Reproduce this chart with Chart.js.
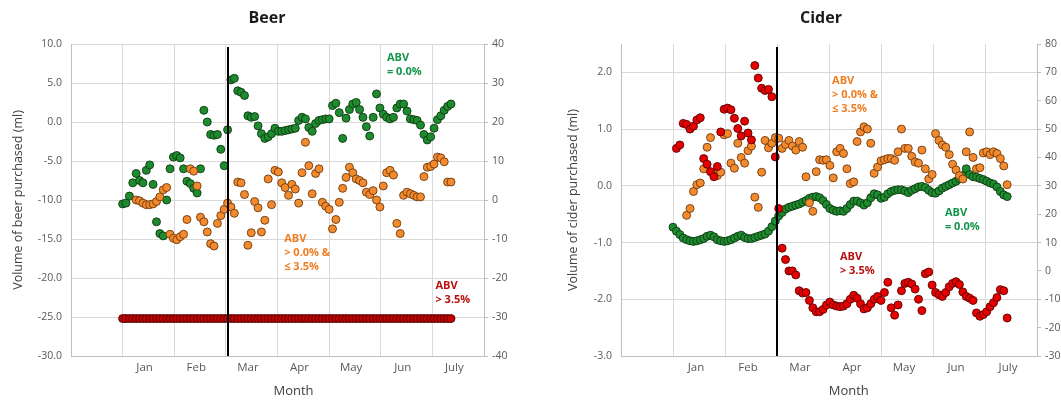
<!DOCTYPE html>
<html>
<head>
<meta charset="utf-8">
<script src="https://cdn.jsdelivr.net/npm/chart.js@4.4.1/dist/chart.umd.min.js"></script>
<style>
  html, body { margin: 0; padding: 0; background: #fff; }
  body { width: 1061px; height: 405px; overflow: hidden; position: relative; }
  canvas { position: absolute; top: 0; }
  #beerChart { left: 0; }
  #ciderChart { left: 545px; }
</style>
</head>
<body>
<canvas id="beerChart" width="534" height="405"></canvas>
<canvas id="ciderChart" width="552" height="405"></canvas>
<script>
// month labels sit between the month gridlines (x = 1 is 1 Jan)
const MONTHS = ['', 'Jan', 'Feb', 'Mar', 'Apr', 'May', 'Jun', 'July', ''];
const DAY_STEP = 2;          // one reading every second day
const DAYS_PER_MONTH = 30.5;

// Beer, mean volume purchased (ml), from 1 Jan
const beerZero = [
    -10.5, -10.4, -9.5, -7.8, -6.6, -7.5, -7.8, -6.2, -5.5, -8.0,
    -12.8, -14.3, -14.6, -10.0, -6.0, -4.5, -4.3, -4.6, -6.0, -7.6,
    -7.9, -8.5, -9.1, -6.0, 1.5, 0.0, -1.6, -1.7, -1.6, -3.5,
    -5.6, -1.0, 5.4, 5.6, 4.0, 3.8, 3.4, 0.8, 0.6, 0.7,
    -0.5, -1.5, -2.1, -1.9, -1.5, -0.8, -1.2, -1.2, -1.1, -1.0,
    -0.9, -0.8, 0.2, 0.6, 0.4, -0.7, -1.2, -0.2, 0.2, 0.3,
    0.4, 0.4, 2.1, 2.4, 1.2, -2.1, 0.5, 1.6, 2.3, 2.5,
    1.6, 0.6, -0.6, -1.8, 0.6, 3.6, 1.8, 1.0, 0.6, 0.4,
    0.6, 1.8, 2.3, 2.3, 1.4, 0.4, 0.3, 0.2, -0.4, -1.6,
    -2.3, -1.9, -0.8, 0.3, 0.8, 1.5, 2.0, 2.3
];
const beerLow = [
    null, null, null, null, -10.0, -10.1, -10.4, -10.6, -10.6, -10.5,
    -10.2, -9.6, -8.7, -8.4, -14.4, -14.9, -15.1, -14.7, -14.4, -12.5,
    -6.0, -6.3, -8.2, -12.2, -12.8, -14.1, -15.6, -15.9, -13.0, -12.0,
    -11.2, -10.4, -10.9, -11.7, -7.7, -7.8, -9.3, -15.8, -14.2, -10.2,
    -11.0, -14.1, -12.6, -7.3, -10.6, -6.2, -6.4, -7.8, -8.4, -9.4,
    -8.0, -8.6, -10.4, -6.5, -2.6, -5.6, -9.2, -6.6, -6.0, -10.3,
    -10.8, -11.2, -13.7, -12.5, -10.3, -8.5, -7.1, -5.8, -6.5, -7.3,
    -7.5, -7.8, -9.0, -9.3, -8.8, -10.0, -10.9, -8.2, -6.5, -6.2,
    -6.8, -13.0, -14.3, -9.4, -9.0, -9.2, -9.4, -9.6, -9.6, -7.0,
    -5.8, -5.7, -5.4, -4.5, -4.6, -5.1, -7.7, -7.7
];
const beerHigh = [
    -25.2, -25.2, -25.2, -25.2, -25.2, -25.2, -25.2, -25.2, -25.2, -25.2,
    -25.2, -25.2, -25.2, -25.2, -25.2, -25.2, -25.2, -25.2, -25.2, -25.2,
    -25.2, -25.2, -25.2, -25.2, -25.2, -25.2, -25.2, -25.2, -25.2, -25.2,
    -25.2, -25.2, -25.2, -25.2, -25.2, -25.2, -25.2, -25.2, -25.2, -25.2,
    -25.2, -25.2, -25.2, -25.2, -25.2, -25.2, -25.2, -25.2, -25.2, -25.2,
    -25.2, -25.2, -25.2, -25.2, -25.2, -25.2, -25.2, -25.2, -25.2, -25.2,
    -25.2, -25.2, -25.2, -25.2, -25.2, -25.2, -25.2, -25.2, -25.2, -25.2,
    -25.2, -25.2, -25.2, -25.2, -25.2, -25.2, -25.2, -25.2, -25.2, -25.2,
    -25.2, -25.2, -25.2, -25.2, -25.2, -25.2, -25.2, -25.2, -25.2, -25.2,
    -25.2, -25.2, -25.2, -25.2, -25.2, -25.2, -25.2, -25.2
];

// Cider, mean volume purchased (ml), from 1 Jan
const ciderZero = [
    -0.73, -0.80, -0.86, -0.92, -0.95, -0.97, -0.98, -0.97, -0.95, -0.93,
    -0.89, -0.87, -0.90, -0.95, -0.97, -0.98, -0.97, -0.95, -0.92, -0.89,
    -0.87, -0.91, -0.93, -0.93, -0.91, -0.89, -0.87, -0.85, -0.80, -0.72,
    -0.62, -0.53, -0.47, -0.41, -0.38, -0.36, -0.34, -0.32, -0.29, -0.26,
    -0.22, -0.20, -0.19, -0.21, -0.26, -0.33, -0.40, -0.43, -0.45, -0.44,
    -0.45, -0.40, -0.33, -0.27, -0.27, -0.30, -0.34, -0.30, -0.21, -0.14,
    -0.16, -0.22, -0.20, -0.14, -0.10, -0.08, -0.07, -0.07, -0.09, -0.12,
    -0.08, -0.05, -0.02, -0.01, -0.03, -0.08, -0.12, -0.13, -0.09, -0.04,
    -0.01, 0.02, 0.05, 0.08, 0.12, 0.18, 0.30, 0.20, 0.16, 0.15,
    0.13, 0.11, 0.08, 0.05, 0.03, -0.02, -0.10, -0.16, -0.19
];
const ciderLow = [
    null, null, null, null, -0.52, -0.40, -0.10, 0.02, 0.05, 0.30,
    0.68, 0.85, 0.22, 0.18, 0.24, 0.90, 0.92, 0.40, 0.31, 0.75,
    0.50, 0.40, 0.62, 0.70, -0.20, -0.38, 0.24, 0.80, 0.67, 0.75,
    0.85, 0.84, 0.66, 0.73, 0.80, 0.70, 0.63, 0.78, 0.68, 0.16,
    -0.30, -0.45, 0.25, 0.46, 0.45, 0.46, 0.36, 0.14, 0.60, 0.66,
    0.57, 0.30, 0.04, 0.07, 0.78, 0.95, 1.04, 1.00, 0.75, 0.22,
    0.33, 0.44, 0.46, 0.48, 0.48, 0.45, 0.60, 1.00, 0.66, 0.66,
    0.52, 0.42, 0.40, 0.63, 0.30, 0.12, 0.20, 0.92, 0.80, 0.72,
    0.68, 0.55, 0.38, 0.28, 0.18, 0.12, 0.60, 0.95, 0.50, 0.30,
    0.32, 0.58, 0.60, 0.55, 0.60, 0.57, 0.48, 0.35, 0.02
];
const ciderHigh = [
    null, 0.66, 0.72, 1.10, 1.08, 1.00, 1.05, 1.16, 1.20, 0.48,
    0.38, 0.25, 0.16, 0.34, 0.95, 1.35, 1.37, 1.34, 1.19, 1.01,
    0.88, 1.14, 0.93, 0.81, 2.12, 1.90, 1.72, 1.68, 1.70, 1.57,
    0.51, -0.40, -1.10, -1.30, -1.50, -1.50, -1.57, -1.85, -1.89, -1.88,
    -2.02, -2.15, -2.22, -2.22, -2.18, -2.10, -2.05, -2.10, -2.12, -2.13,
    -2.12, -2.08, -2.00, -1.93, -1.98, -2.08, -2.17, -2.15, -2.08, -2.00,
    -1.95, -2.02, -1.88, -1.70, -2.15, -2.28, -2.10, -1.85, -1.72, -1.70,
    -1.73, -1.82, -2.00, -2.20, -1.55, -1.52, -1.75, -1.88, -1.92, -1.95,
    -1.88, -1.78, -1.72, -1.69, -1.74, -1.87, -1.95, -1.98, -2.02, -2.24,
    -2.30, -2.27, -2.22, -2.13, -2.06, -1.97, -1.83, -1.85, -2.33
];

const CHART_THEME = {
    text: '#1a1a1a',
    label: '#404040',
    muted: '#595959',
    grid: '#d9d9d9',
    axis: '#bfbfbf',
    fontFamily: '"Open Sans", "Noto Sans", sans-serif'
};

const COLORS = {
    zero: { fill: '#1f8b2f', edge: '#0c3a12', text: '#12944a' },
    low: { fill: '#f48a2e', edge: '#6e3a0e', text: '#ef7d22' },
    beerHigh: { fill: '#c40000', edge: '#4a0000', text: '#b80f0f' },
    ciderHigh: { fill: '#e60000', edge: '#5c0000', text: '#b80f0f' }
};

function makePoints(values) {
    return values.map((v, i) => ({ x: 1 + i * DAY_STEP / DAYS_PER_MONTH, y: v }));
}

function scatterSet(values, c) {
    return {
        data: makePoints(values),
        backgroundColor: c.fill,
        borderColor: c.edge,
        borderWidth: 0.9,
        pointRadius: 4,
        pointHoverRadius: 4
    };
}

// policy marker, ABV labels and the x axis title
const panelNotes = {
    id: 'panelNotes',
    afterDatasetsDraw(chart, args, opts) {
        const { ctx, chartArea, scales } = chart;
        const x = scales.x, y = scales.y;
        ctx.save();

        const lx = Math.round(x.getPixelForValue(opts.policyX));
        ctx.strokeStyle = '#000';
        ctx.lineWidth = 2;
        ctx.beginPath();
        ctx.moveTo(lx, chartArea.top + 3);
        ctx.lineTo(lx, chartArea.bottom);
        ctx.stroke();

        ctx.font = 'bold 11px ' + CHART_THEME.fontFamily;
        ctx.textAlign = 'left';
        ctx.textBaseline = 'middle';
        opts.notes.forEach(n => {
            const nx = x.getPixelForValue(n.x);
            const ny = y.getPixelForValue(n.y);
            ctx.fillStyle = n.color;
            n.lines.forEach((t, k) => ctx.fillText(t, nx, ny + k * 14));
        });

        ctx.font = '13px ' + CHART_THEME.fontFamily;
        ctx.textAlign = 'center';
        ctx.fillStyle = CHART_THEME.label;
        ctx.fillText(opts.xTitle, x.getPixelForValue(opts.xTitleAt), chart.height - 14);
        ctx.restore();
    }
};

function createPanel(canvasId, p) {
    const ctx = document.getElementById(canvasId);
    const tickFont = { family: CHART_THEME.fontFamily, size: 10.5 };

    return new Chart(ctx, {
        type: 'scatter',
        data: { datasets: p.datasets },
        plugins: [panelNotes],
        options: {
            responsive: false,
            devicePixelRatio: 1,
            animation: false,
            layout: { padding: 0 },
            plugins: {
                legend: { display: false },
                tooltip: { enabled: false },
                title: {
                    display: true,
                    text: p.title,
                    color: CHART_THEME.text,
                    font: { size: 16, weight: 'bold', family: CHART_THEME.fontFamily },
                    padding: { top: 8.4, bottom: 16.4 }
                },
                panelNotes: {
                    policyX: p.policyX,
                    notes: p.notes,
                    xTitle: 'Month',
                    xTitleAt: p.xTitleAt
                }
            },
            scales: {
                x: {
                    type: 'linear',
                    min: 0,
                    max: 8,
                    ticks: {
                        stepSize: 1,
                        autoSkip: false,
                        maxRotation: 0,
                        labelOffset: p.labelOffset,
                        padding: 5,
                        color: CHART_THEME.muted,
                        font: { family: CHART_THEME.fontFamily, size: 11.5 },
                        callback: v => MONTHS[v] || ''
                    },
                    grid: { color: CHART_THEME.grid, drawTicks: false },
                    border: { color: CHART_THEME.axis },
                    afterFit: s => { s.height = 49; }
                },
                y: {
                    position: 'left',
                    min: p.left[0],
                    max: p.left[1],
                    ticks: {
                        stepSize: p.left[2],
                        includeBounds: false,
                        padding: 9,
                        color: CHART_THEME.muted,
                        font: tickFont,
                        callback: v => v.toFixed(1)
                    },
                    grid: { color: CHART_THEME.grid, drawTicks: false },
                    border: { color: CHART_THEME.axis },
                    title: {
                        display: true,
                        text: p.yTitle,
                        color: CHART_THEME.label,
                        font: { family: CHART_THEME.fontFamily, size: 12.5 },
                        padding: { top: p.yTitlePad, bottom: 0 }
                    },
                    afterFit: s => { s.width = p.leftWidth; }
                },
                y1: {
                    position: 'right',
                    min: p.right[0],
                    max: p.right[1],
                    ticks: {
                        stepSize: p.right[2],
                        padding: 4,
                        color: CHART_THEME.muted,
                        font: tickFont
                    },
                    grid: { drawOnChartArea: false, color: CHART_THEME.axis, tickLength: 4 },
                    border: { color: CHART_THEME.axis },
                    afterFit: s => { s.width = p.rightWidth; }
                }
            }
        }
    });
}

createPanel('beerChart', {
    title: 'Beer',
    yTitle: 'Volume of beer purchased (ml)',
    yTitlePad: 11,
    leftWidth: 71,
    rightWidth: 50,
    left: [-30, 10, 5],
    right: [-40, 40, 10],
    labelOffset: 22,
    policyX: 3.05,
    xTitleAt: 4.31,
    datasets: [
        scatterSet(beerHigh, COLORS.beerHigh),
        scatterSet(beerLow, COLORS.low),
        scatterSet(beerZero, COLORS.zero)
    ],
    notes: [
        { x: 6.12, y: 8.2, lines: ['ABV', '= 0.0%'], color: COLORS.zero.text },
        { x: 4.13, y: -15.0, lines: ['ABV', '> 0.0% &', '\u2264 3.5%'], color: COLORS.low.text },
        { x: 7.06, y: -21.0, lines: ['ABV', '> 3.5%'], color: COLORS.beerHigh.text }
    ]
});

createPanel('ciderChart', {
    title: 'Cider',
    yTitle: 'Volume of cider purchased (ml)',
    yTitlePad: 21,
    leftWidth: 76,
    rightWidth: 60,
    left: [-3, 2.5, 1],
    right: [-30, 80, 10],
    labelOffset: 23,
    policyX: 3.0,
    xTitleAt: 4.38,
    datasets: [
        scatterSet(ciderHigh, COLORS.ciderHigh),
        scatterSet(ciderLow, COLORS.low),
        scatterSet(ciderZero, COLORS.zero)
    ],
    notes: [
        { x: 4.06, y: 1.85, lines: ['ABV', '> 0.0% &', '\u2264 3.5%'], color: COLORS.low.text },
        { x: 6.23, y: -0.48, lines: ['ABV', '= 0.0%'], color: COLORS.zero.text },
        { x: 4.21, y: -1.26, lines: ['ABV', '> 3.5%'], color: COLORS.ciderHigh.text }
    ]
});
</script>
</body>
</html>
